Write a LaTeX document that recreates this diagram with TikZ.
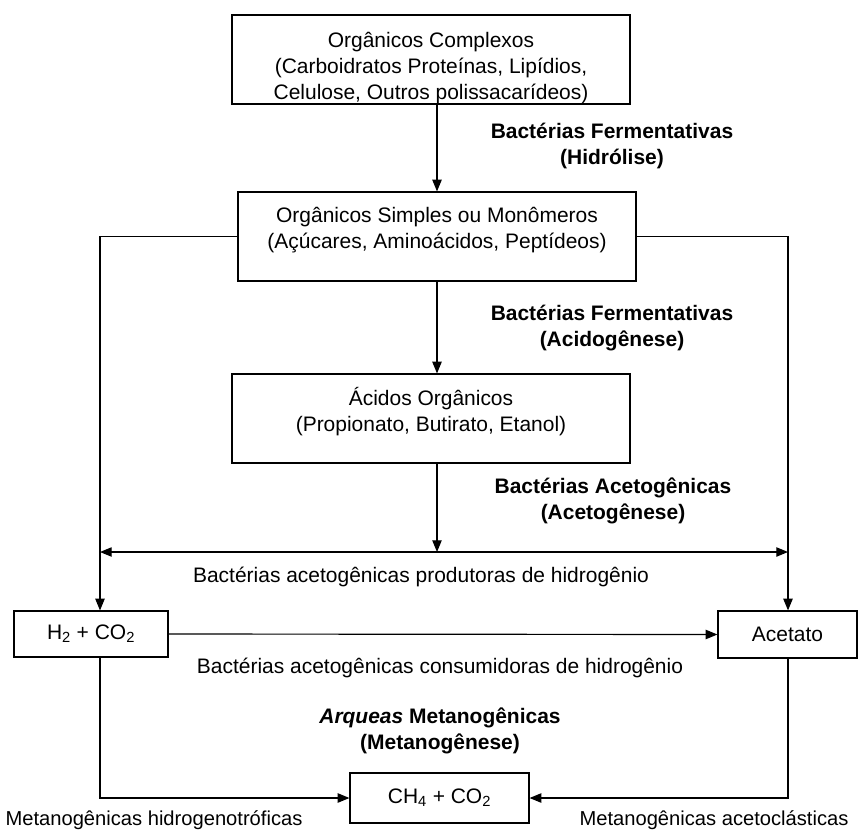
\documentclass[tikz,border=0pt]{standalone}
\usepackage{fontspec}
\setmainfont{Liberation Sans}
\usetikzlibrary{arrows.meta}
\newcommand{\lowstrut}{\rule[-15pt]{0pt}{15pt}}
\newcommand{\highstrut}{\rule{0pt}{28pt}}

\begin{document}
\begin{tikzpicture}[x=0.03cm,y=-0.03cm,
    >={Triangle[length=10pt,width=8pt]},
    font=\fontsize{17.9}{22}\selectfont,
    caixa/.style={draw,line width=1pt,align=center,inner sep=0pt},
    linha/.style={line width=1pt},
    rotulo/.style={font=\fontsize{17.9}{22}\selectfont\bfseries,align=center}]
    \useasboundingbox (0,0) rectangle (864,834);
    % caixas
    \node[caixa,minimum width=11.94cm,minimum height=2.67cm] (complexos) at (431,59.5) {\highstrut Orgânicos Complexos\\(Carboidratos Proteínas, Lipídios,\\Celulose, Outros polissacarídeos)};
    \node[caixa,minimum width=11.94cm,minimum height=2.67cm] (simples) at (437,236.5) {Orgânicos Simples ou Monômeros\\(Açúcares, Aminoácidos, Peptídeos)\lowstrut};
    \node[caixa,minimum width=11.94cm,minimum height=2.67cm] (acidos) at (431,418.5) {Ácidos Orgânicos\\(Propionato, Butirato, Etanol)\lowstrut};
    \node[caixa,minimum width=4.62cm,minimum height=1.38cm] (h2) at (91,634) {H\textsubscript{2} + CO\textsubscript{2}};
    \node[caixa,minimum width=4.17cm,minimum height=1.41cm] (acetato) at (787.5,634.5) {Acetato};
    \node[caixa,minimum width=5.37cm,minimum height=1.5cm] (ch4) at (439.5,798) {CH\textsubscript{4} + CO\textsubscript{2}};
    % rotulos
    \node[rotulo] (hidrolise) at (612,146) {Bactérias Fermentativas\\(Hidrólise)};
    \node[rotulo] (acidogenese) at (612,328) {Bactérias Fermentativas\\(Acidogênese)};
    \node[rotulo] (acetogenese) at (613,501) {Bactérias Acetogênicas\\(Acetogênese)};
    \node[rotulo] (metanogenese) at (440,731) {\textit{Arqueas} Metanogênicas\\(Metanogênese)};
    \node (produtoras) at (421,577) {Bactérias acetogênicas produtoras de hidrogênio};
    \node (consumidoras) at (440,668) {Bactérias acetogênicas consumidoras de hidrogênio};
    \node[font=\fontsize{17.2}{21}\selectfont] (hidrogenotroficas) at (154,820) {Metanogênicas hidrogenotróficas};
    \node[font=\fontsize{17.2}{21}\selectfont] (acetoclasticas) at (714,820) {Metanogênicas acetoclásticas};
    % setas
    \coordinate (esq) at (100,552);
    \coordinate (dir) at (788,552);
    \draw[linha,->] (complexos.south -| simples.north) -- (simples.north);
    \draw[linha,->] (simples.south) -- (simples.south |- acidos.north);
    \draw[linha,->] (simples.south |- acidos.south) -- (simples.south |- esq);
    \draw[linha,<->] (esq) -- (dir);
    \draw[linha,->] (simples.west) -| (esq |- h2.north);
    \draw[linha,->] (simples.east) -| (dir |- acetato.north);
    \draw[linha,->] (h2.east) -- (acetato.west);
    \draw[linha,->] (esq |- h2.south) |- (ch4.west);
    \draw[linha,->] (dir |- acetato.south) |- (ch4.east);
\end{tikzpicture}
\end{document}
